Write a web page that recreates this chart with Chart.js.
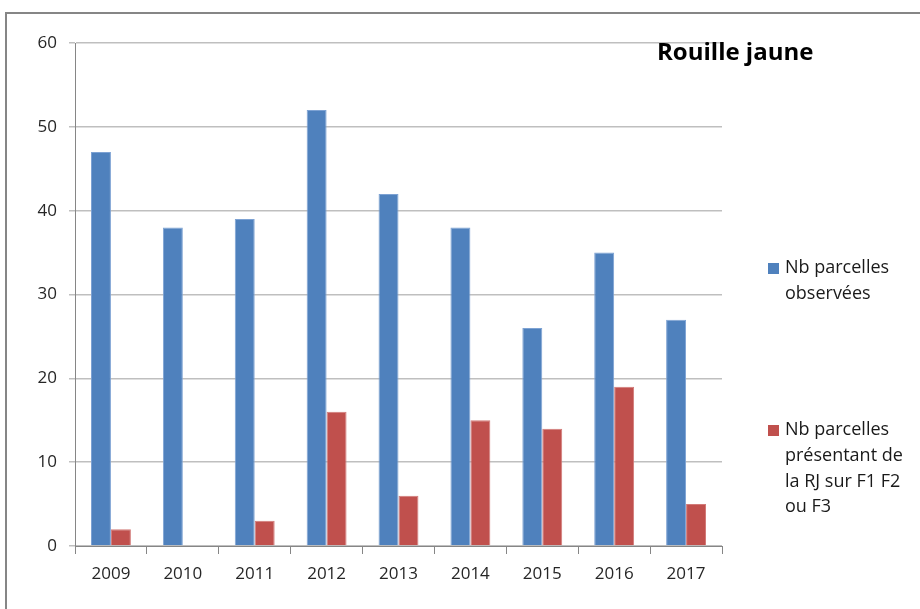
<!DOCTYPE html>
<html>
<head>
<meta charset="utf-8">
<script src="https://cdn.jsdelivr.net/npm/chart.js@4/dist/chart.umd.min.js"></script>
<style>
    body { margin: 0; background: #ffffff; }
    #wrap { width: 920px; height: 609px; position: relative; }
</style>
</head>
<body>
<div id="wrap"><canvas id="chart"></canvas></div>
<script>
const years = ["2009", "2010", "2011", "2012", "2013", "2014", "2015", "2016", "2017"];
const observed = [47, 38, 39, 52, 42, 38, 26, 35, 27];
const withRust = [2, 0, 3, 16, 6, 15, 14, 19, 5];
const seriesNames = [
    ["Nb parcelles", "observées"],
    ["Nb parcelles", "présentant de", "la RJ sur F1 F2", "ou F3"],
];
const titleText = "Rouille jaune";

const labelFont = { family: "'Open Sans', 'Liberation Sans', sans-serif", size: 17 };

// frame, title and the wrapped legend on the right
const extras = {
    id: "extras",
    beforeDraw(chart) {
        const ctx = chart.ctx;
        ctx.save();
        ctx.strokeStyle = "#868686";
        ctx.lineWidth = 2;
        ctx.strokeRect(6, 13, 1000, 1000);
        ctx.restore();
    },
    afterDraw(chart) {
        const ctx = chart.ctx;
        ctx.save();
        ctx.fillStyle = "#000000";
        ctx.font = "bold 24px 'Open Sans', 'Liberation Sans', sans-serif";
        ctx.textAlign = "left";
        ctx.textBaseline = "middle";
        ctx.fillText(titleText, 657, 53);

        const tops = [268, 430];
        ctx.font = "18px 'Open Sans', 'Liberation Sans', sans-serif";
        chart.data.datasets.forEach((ds, i) => {
            ctx.fillStyle = ds.backgroundColor;
            ctx.fillRect(768, tops[i] - 5, 11, 11);
            ctx.fillStyle = "#1a1a1a";
            seriesNames[i].forEach((line, j) => {
                ctx.fillText(line, 785, tops[i] + j * 25.7);
            });
        });
        ctx.restore();
    },
};

const config = {
    type: "bar",
    data: {
        labels: years,
        datasets: [
            {
                label: seriesNames[0].join(" "),
                data: observed,
                backgroundColor: "#4f81bd",
                borderColor: "#7da2d3",
                borderWidth: 1,
                categoryPercentage: 0.555,
                barPercentage: 1,
            },
            {
                label: seriesNames[1].join(" "),
                data: withRust,
                backgroundColor: "#c0504d",
                borderColor: "#d27a78",
                borderWidth: 1,
                categoryPercentage: 0.555,
                barPercentage: 1,
            },
        ],
    },
    options: {
        responsive: true,
        maintainAspectRatio: false,
        animation: false,
        layout: { padding: { top: 43, right: 198, left: 0, bottom: 0 } },
        plugins: {
            legend: { display: false },
            title: { display: false },
            tooltip: { enabled: false },
        },
        scales: {
            x: {
                afterFit(scale) { scale.height = 63; },
                grid: {
                    drawOnChartArea: false,
                    drawTicks: true,
                    tickLength: 8,
                    color: "#868686",
                },
                border: { color: "#868686", width: 1 },
                ticks: { color: "#262626", font: labelFont, padding: 10 },
            },
            y: {
                min: 0,
                max: 60,
                afterFit(scale) { scale.width = 75; },
                grid: {
                    color: "#bfbfbf",
                    lineWidth: 1.5,
                    drawTicks: true,
                    tickLength: 6,
                },
                border: { color: "#868686", width: 1 },
                ticks: { stepSize: 10, color: "#262626", font: labelFont, padding: 12 },
            },
        },
    },
    plugins: [extras],
};

new Chart(document.getElementById("chart"), config);
</script>
</body>
</html>
